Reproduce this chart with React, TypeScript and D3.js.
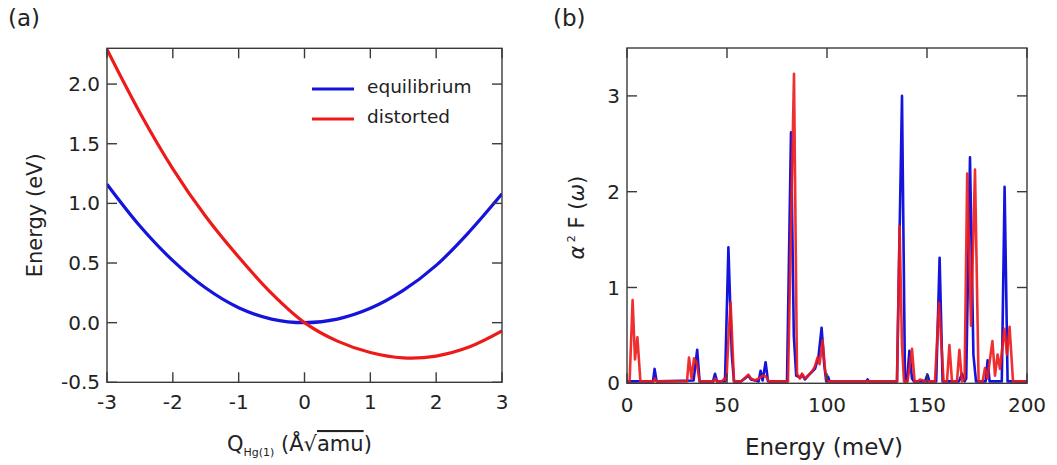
import React from 'react';
import * as d3 from 'd3';

// ---------- Panel (a) data ----------
const qValues = [-3, -2.5, -2, -1.5, -1, -0.5, 0, 0.5, 1, 1.5, 2, 2.5, 3];
const equilibrium = [1.16, 0.81, 0.52, 0.29, 0.125, 0.03, 0, 0.03, 0.12, 0.27, 0.48, 0.76, 1.08];
const distorted = [2.29, 1.76, 1.29, 0.89, 0.55, 0.245, 0, -0.155, -0.25, -0.295, -0.28, -0.205, -0.07];
const aXTicks = [-3, -2, -1, 0, 1, 2, 3];
const aYTicks = [-0.5, 0, 0.5, 1, 1.5, 2];

// ---------- Panel (b) data ----------
const blueE = [0, 13, 13.8, 14.8, 33.3, 35.1, 36.3, 43, 44, 45, 49, 50.7, 52.4, 53.5, 57, 59, 60.6, 62, 64, 65.8, 66.8, 67.8, 69.3, 70.5,
  80, 82.0, 83.4, 84.6, 86.5, 87.5, 89, 91.5, 94, 95.7, 97.3, 98.6, 99.6, 100.5, 101.3, 119.5, 120.3, 121, 135, 137.5, 139,
  140, 141.2, 142.5, 143.5, 149, 150.2, 151.2, 154.6, 156.3, 157.8, 166, 167.5, 168.8, 169.6, 171.5, 173.2, 174.5, 179.3, 180.3,
  181.3, 187.4, 188.8, 190.3, 200];
const blueV = [0.02, 0.02, 0.15, 0.02, 0.03, 0.35, 0.02, 0.02, 0.1, 0.02, 0.02, 1.42, 0.3, 0.02, 0.02, 0.05, 0.08, 0.04, 0.03, 0.02, 0.13, 0.03, 0.22, 0.02,
  0.02, 2.62, 0.5, 0.08, 0.06, 0.09, 0.04, 0.1, 0.15, 0.27, 0.58, 0.2, 0.02, 0.07, 0.02, 0.02, 0.04, 0.02, 0.02, 3.0, 0.02,
  0.02, 0.34, 0.05, 0.02, 0.02, 0.09, 0.02, 0.02, 1.31, 0.02, 0.02, 0.1, 0.02, 0.05, 2.36, 0.3, 0.02, 0.02, 0.24,
  0.02, 0.02, 2.05, 0.02, 0.02];
const redE = [0, 1.3, 2.8, 4.0, 5.2, 6.7, 13.3, 14, 14.8, 30, 31, 32.3, 33.5, 34.8, 36.3, 43.3, 44, 45, 47.5, 48.7, 49.7, 50.8, 51.8, 53.5,
  57, 60.7, 62, 64, 66.5, 68, 69.5, 71, 80.5, 83.5, 85, 86.5, 87.5, 89, 91.5, 93, 94, 95.3, 96.3, 97.8, 99, 100,
  135, 136.3, 137.5, 138.5, 140.3, 142.5, 143.8, 145.5, 146.5, 148, 149, 154, 156, 158.3, 160, 161.2, 162.5, 165, 166.2, 167.5,
  168.8, 170.1, 172, 174, 175.8, 177.8, 179, 180.2, 182.7, 184, 185.3, 186.5, 188.7, 190, 191.3, 193, 200];
const redV = [0.02, 0.02, 0.87, 0.25, 0.48, 0.02, 0.02, 0.05, 0.02, 0.02, 0.27, 0.05, 0.26, 0.22, 0.02, 0.02, 0.05, 0.02, 0.02, 0.05, 0.03, 0.5, 0.84, 0.02,
  0.02, 0.09, 0.05, 0.03, 0.06, 0.08, 0.07, 0.02, 0.02, 3.23, 0.1, 0.05, 0.1, 0.05, 0.1, 0.14, 0.18, 0.27, 0.2, 0.45, 0.15, 0.02,
  0.02, 1.64, 0.4, 0.02, 0.02, 0.36, 0.02, 0.02, 0.04, 0.03, 0.02, 0.02, 0.84, 0.02, 0.02, 0.4, 0.02, 0.02, 0.35, 0.02,
  0.05, 2.19, 0.6, 2.23, 0.02, 0.02, 0.16, 0.05, 0.44, 0.08, 0.3, 0.15, 0.57, 0.3, 0.59, 0.02, 0.02];
const bXTicks = [0, 50, 100, 150, 200];
const bYTicks = [0, 1, 2, 3];

const BLUE = '#1414dc';
const RED = '#ee1a1a';
const FRAME = '#3a3a3a';
const TEXT = '#222';
const FONT = '"DejaVu Sans", Verdana, sans-serif';

export default function App() {
  const xa = d3.scaleLinear().domain([-3, 3]).range([107, 502]);
  const ya = d3.scaleLinear().domain([-0.5, 2.3]).range([382.3, 48.3]);
  const xb = d3.scaleLinear().domain([0, 200]).range([627, 1027]);
  const yb = d3.scaleLinear().domain([0, 3.5]).range([383.3, 48]);

  const lineA = d3.line<number>().x((_, i) => xa(qValues[i])).y((d) => ya(d)).curve(d3.curveCatmullRom);
  const lineB = (E: number[]) => d3.line<number>().x((_, i) => xb(E[i])).y((d) => yb(d));

  const tick = 10;
  const [ax0, ax1] = xa.range();
  const [ay0, ay1] = ya.range();
  const [bx0, bx1] = xb.range();
  const [by0, by1] = yb.range();

  return (
    <svg width={1057} height={465} style={{ position: 'absolute', left: 0, top: 0, background: '#fff' }} fontFamily={FONT}>
      <defs>
        <clipPath id="clipA"><rect x={ax0} y={ay1} width={ax1 - ax0} height={ay0 - ay1} /></clipPath>
        <clipPath id="clipB"><rect x={bx0} y={by1} width={bx1 - bx0} height={by0 - by1} /></clipPath>
      </defs>
      <rect width={1057} height={465} fill="#fff" />

      {/* Panel labels */}
      <text x={8} y={26} fontSize={23} fill={TEXT}>(a)</text>
      <text x={553} y={26} fontSize={23} fill={TEXT}>(b)</text>

      {/* ---------- Panel (a) ---------- */}
      <g clipPath="url(#clipA)">
        <path d={lineA(equilibrium) || ''} fill="none" stroke={BLUE} strokeWidth={3.2} />
        <path d={lineA(distorted) || ''} fill="none" stroke={RED} strokeWidth={3.2} />
      </g>
      <rect x={ax0} y={ay1} width={ax1 - ax0} height={ay0 - ay1} fill="none" stroke={FRAME} strokeWidth={1.4} />
      {aXTicks.map((t) => (
        <g key={'ax' + t}>
          <line x1={xa(t)} x2={xa(t)} y1={ay0} y2={ay0 - tick} stroke={FRAME} strokeWidth={1.4} />
          <line x1={xa(t)} x2={xa(t)} y1={ay1} y2={ay1 + tick} stroke={FRAME} strokeWidth={1.4} />
          <text x={xa(t)} y={ay0 + 27} textAnchor="middle" fontSize={20} fill={TEXT}>{String(t)}</text>
        </g>
      ))}
      {aYTicks.map((t) => (
        <g key={'ay' + t}>
          <line x1={ax0} x2={ax0 + tick} y1={ya(t)} y2={ya(t)} stroke={FRAME} strokeWidth={1.4} />
          <line x1={ax1} x2={ax1 - tick} y1={ya(t)} y2={ya(t)} stroke={FRAME} strokeWidth={1.4} />
          <text x={ax0 - 7} y={ya(t) + 7} textAnchor="end" fontSize={20} fill={TEXT}>{t.toFixed(1)}</text>
        </g>
      ))}
      <text transform={`translate(41.5,${(ay0 + ay1) / 2}) rotate(-90)`} textAnchor="middle" fontSize={21} fill={TEXT}>Energy (eV)</text>
      <text x={227} y={451} fontSize={21} fill={TEXT}>
        <tspan>Q</tspan>
        <tspan fontSize={11} dy={5}>Hg(1)</tspan>
        <tspan dy={-5}> (Å√</tspan>
        <tspan textDecoration="overline">amu</tspan>
        <tspan>)</tspan>
      </text>

      {/* Legend */}
      <line x1={312} x2={354} y1={89} y2={89} stroke={BLUE} strokeWidth={3.2} />
      <line x1={312} x2={354} y1={119} y2={119} stroke={RED} strokeWidth={3.2} />
      <text x={367} y={93} fontSize={18.5} fill={TEXT}>equilibrium</text>
      <text x={367} y={123} fontSize={18.5} fill={TEXT}>distorted</text>

      {/* ---------- Panel (b) ---------- */}
      <g clipPath="url(#clipB)">
        <path d={lineB(blueE)(blueV) || ''} fill="none" stroke={BLUE} strokeWidth={2.6} strokeLinejoin="round" />
        <path d={lineB(redE)(redV) || ''} fill="none" stroke={RED} strokeOpacity={0.9} strokeWidth={2.6} strokeLinejoin="round" />
      </g>
      <rect x={bx0} y={by1} width={bx1 - bx0} height={by0 - by1} fill="none" stroke={FRAME} strokeWidth={1.4} />
      {bXTicks.map((t) => (
        <g key={'bx' + t}>
          <line x1={xb(t)} x2={xb(t)} y1={by0} y2={by0 - tick} stroke={FRAME} strokeWidth={1.4} />
          <line x1={xb(t)} x2={xb(t)} y1={by1} y2={by1 + tick} stroke={FRAME} strokeWidth={1.4} />
          <text x={xb(t)} y={by0 + 29} textAnchor="middle" fontSize={20} fill={TEXT}>{String(t)}</text>
        </g>
      ))}
      {bYTicks.map((t) => (
        <g key={'by' + t}>
          <line x1={bx0} x2={bx0 + tick} y1={yb(t)} y2={yb(t)} stroke={FRAME} strokeWidth={1.4} />
          <line x1={bx1} x2={bx1 - tick} y1={yb(t)} y2={yb(t)} stroke={FRAME} strokeWidth={1.4} />
          <text x={bx0 - 7} y={yb(t) + 7} textAnchor="end" fontSize={20} fill={TEXT}>{String(t)}</text>
        </g>
      ))}
      <text transform={`translate(584,${(by0 + by1) / 2 + 2}) rotate(-90)`} textAnchor="middle" fontSize={21} fill={TEXT}>
        <tspan fontStyle="italic">α</tspan>
        <tspan fontSize={11} dy={-9}> 2</tspan>
        <tspan dy={9}> F </tspan>
        <tspan>(</tspan>
        <tspan fontStyle="italic">ω</tspan>
        <tspan>)</tspan>
      </text>
      <text x={(bx0 + bx1) / 2 - 3} y={455} textAnchor="middle" fontSize={23} fill={TEXT}>Energy (meV)</text>
    </svg>
  );
}
